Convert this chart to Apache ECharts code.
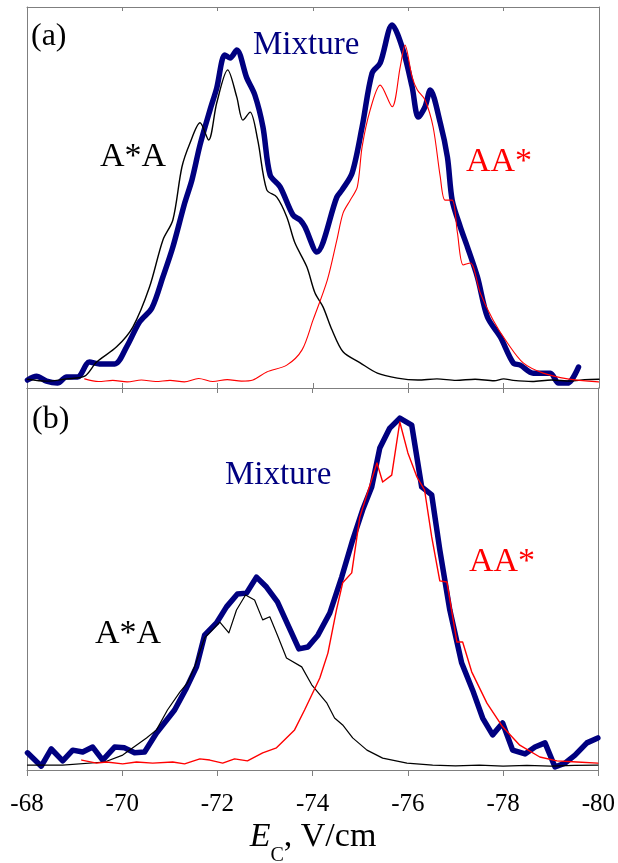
<!DOCTYPE html>
<html>
<head>
<meta charset="utf-8">
<script src="https://cdn.jsdelivr.net/npm/echarts@6/dist/echarts.min.js"></script>
<style>
  html, body { margin: 0; padding: 0; background: #fff; }
  #chart { width: 618px; height: 863px; }
</style>
</head>
<body>
<div id="chart"></div>
<script>
// x = E_C in V/cm, y = relative signal (0-100)
var xTicks = [-68, -70, -72, -74, -76, -78, -80];

// panel (a)
var mixA = [[-68.01, 2.1], [-68.20, 3.1], [-68.41, 1.8], [-68.64, 1.3], [-68.83, 2.9], [-69.06, 2.9],
  [-69.31, 6.8], [-69.52, 6.3], [-69.84, 6.3], [-70.09, 10.8], [-70.36, 17.3], [-70.62, 21.0],
  [-70.85, 29.1], [-71.06, 37.0], [-71.31, 48.6], [-71.46, 54.6], [-71.63, 63.8], [-71.84, 73.0],
  [-71.98, 78.7], [-72.15, 87.4], [-72.26, 86.6], [-72.40, 88.7], [-72.61, 81.4], [-72.78, 76.9],
  [-72.95, 68.5], [-73.10, 55.9], [-73.31, 52.8], [-73.58, 45.4], [-73.73, 44.1], [-73.83, 42.3],
  [-74.08, 35.7], [-74.50, 50.1], [-74.61, 52.0], [-74.82, 56.4], [-75.03, 68.5], [-75.24, 82.7],
  [-75.41, 85.3], [-75.66, 95.3], [-75.89, 88.7], [-76.08, 79.0], [-76.21, 71.1], [-76.35, 73.8],
  [-76.46, 78.2], [-76.67, 69.6], [-76.82, 60.6], [-76.92, 49.3], [-77.09, 42.3], [-77.24, 37.0],
  [-77.45, 29.1], [-77.66, 18.6], [-77.93, 13.4], [-78.20, 6.6], [-78.35, 6.0], [-78.62, 3.9],
  [-78.98, 3.9], [-79.15, 1.3], [-79.34, 1.3], [-79.57, 5.5]];
var astarA_a = [[-68.01, 2.3], [-68.41, 1.8], [-68.83, 2.4], [-69.21, 3.1], [-69.46, 6.8], [-69.88, 10.8],
  [-70.22, 16.0], [-70.57, 26.5], [-70.85, 38.8], [-71.06, 44.1], [-71.25, 58.0], [-71.42, 64.3],
  [-71.63, 69.6], [-71.81, 65.1], [-71.98, 74.8], [-72.21, 83.5], [-72.40, 76.4], [-72.53, 70.3],
  [-72.68, 72.4], [-72.84, 65.1], [-73.03, 52.0], [-73.24, 50.1], [-73.45, 44.9], [-73.62, 38.1],
  [-73.87, 31.8], [-74.04, 25.0], [-74.21, 21.3], [-74.40, 15.2], [-74.63, 9.5], [-74.99, 6.6],
  [-75.35, 3.9], [-75.77, 2.6], [-76.2, 2.1], [-76.6, 2.4], [-77.0, 2.0], [-77.4, 2.3], [-77.8, 1.9],
  [-78.0, 2.4], [-78.2, 2.0], [-78.6, 1.7], [-79.0, 2.1], [-79.4, 1.8], [-79.7, 2.2], [-80.0, 2.3]];
var aastar_a = [[-69.21, 2.4], [-69.5, 1.7], [-69.8, 2.0], [-70.1, 1.6], [-70.4, 2.1], [-70.7, 1.7],
  [-71.0, 2.0], [-71.3, 1.6], [-71.6, 2.5], [-71.9, 1.7], [-72.2, 2.2], [-72.5, 1.8], [-72.74, 2.1],
  [-73.03, 4.2], [-73.45, 6.0], [-73.77, 10.0], [-74.00, 17.8], [-74.30, 28.3], [-74.50, 38.8],
  [-74.63, 45.9], [-74.78, 49.3], [-74.93, 52.8], [-75.03, 63.3], [-75.20, 73.0], [-75.41, 79.5],
  [-75.66, 73.8], [-75.83, 84.3], [-75.93, 90.0], [-76.08, 81.6], [-76.19, 78.2], [-76.35, 75.6],
  [-76.52, 68.5], [-76.67, 55.4], [-76.77, 49.3], [-76.92, 49.3], [-77.03, 40.7], [-77.15, 32.3],
  [-77.30, 32.8], [-77.51, 24.9], [-77.78, 17.8], [-78.08, 11.8], [-78.41, 6.6], [-78.83, 3.9],
  [-79.34, 2.4], [-79.99, 1.6]];

// panel (b)
var mixB = [[-68.01, 4.5], [-68.30, 1.0], [-68.51, 5.5], [-68.75, 2.4], [-68.96, 5.2], [-69.17, 4.7],
  [-69.38, 6.0], [-69.59, 2.6], [-69.84, 6.0], [-70.05, 5.8], [-70.26, 4.5], [-70.47, 4.7],
  [-70.72, 9.7], [-71.10, 15.7], [-71.35, 21.5], [-71.56, 27.0], [-71.73, 35.3], [-71.98, 38.5],
  [-72.19, 42.7], [-72.42, 46.1], [-72.61, 46.3], [-72.82, 50.5], [-73.03, 47.9], [-73.26, 44.0],
  [-73.48, 38.0], [-73.71, 31.7], [-73.90, 32.2], [-74.11, 35.3], [-74.36, 41.1], [-74.61, 50.5],
  [-74.84, 60.2], [-75.05, 68.1], [-75.24, 74.1], [-75.41, 84.3], [-75.62, 89.5], [-75.83, 92.1],
  [-76.08, 90.3], [-76.29, 74.1], [-76.50, 72.0], [-76.67, 57.6], [-76.88, 41.9], [-77.13, 28.0],
  [-77.36, 20.9], [-77.57, 13.6], [-77.78, 9.2], [-77.99, 12.3], [-78.20, 5.2], [-78.46, 4.2],
  [-78.67, 6.0], [-78.88, 7.1], [-79.09, 0.8], [-79.30, 1.8], [-79.51, 3.9], [-79.76, 7.1], [-79.99, 8.4]];
var astarA_b = [[-68.01, 1.3], [-68.75, 1.3], [-69.63, 2.1], [-70.01, 3.9], [-70.51, 8.4], [-70.72, 10.5],
  [-70.95, 15.7], [-71.21, 20.4], [-71.37, 22.8], [-71.52, 27.0], [-71.73, 34.6], [-72.05, 38.7],
  [-72.24, 35.9], [-72.40, 41.9], [-72.59, 45.8], [-72.78, 44.5], [-72.95, 39.3], [-73.10, 40.1],
  [-73.26, 35.3], [-73.45, 29.3], [-73.77, 27.0], [-73.98, 22.3], [-74.30, 17.5], [-74.46, 13.6],
  [-74.63, 11.8], [-74.84, 8.4], [-75.14, 5.2], [-75.47, 3.1], [-75.98, 1.8], [-76.52, 1.3],
  [-77.0, 1.1], [-77.5, 1.3], [-78.0, 1.0], [-78.5, 1.2], [-79.0, 1.0], [-79.5, 1.2], [-79.99, 1.3]];
var aastar_b = [[-69.15, 2.6], [-69.46, 1.8], [-69.67, 2.1], [-70.01, 1.6], [-70.30, 2.1], [-70.64, 1.8],
  [-71.06, 2.1], [-71.31, 1.6], [-71.63, 2.9], [-71.84, 2.6], [-72.11, 1.8], [-72.36, 2.9],
  [-72.63, 2.4], [-72.95, 4.5], [-73.24, 5.8], [-73.62, 10.5], [-73.83, 15.7], [-74.15, 24.1],
  [-74.32, 30.6], [-74.50, 41.9], [-74.63, 49.0], [-74.82, 51.6], [-74.99, 66.2], [-75.35, 80.4],
  [-75.47, 75.4], [-75.66, 77.2], [-75.83, 91.1], [-76.00, 83.0], [-76.19, 76.7], [-76.35, 73.3],
  [-76.50, 61.0], [-76.67, 49.5], [-76.82, 49.2], [-77.03, 33.5], [-77.15, 33.5], [-77.34, 25.7],
  [-77.66, 17.5], [-77.99, 11.3], [-78.35, 6.5], [-78.77, 3.4], [-79.13, 2.4], [-79.55, 2.1], [-79.99, 1.8]];

var serif = '"Liberation Serif", "DejaVu Serif", serif';
var navy = '#000080';
var axisGrey = '#7f7f7f';

var chart = echarts.init(document.getElementById('chart'));

function xAx(gridIndex, pos, tickInside, tickLen, labels) {
    return {
        type: 'value', gridIndex: gridIndex, position: pos,
        min: -80, max: -68, interval: 2, inverse: true,
        axisLine: { show: true, onZero: false, lineStyle: { color: axisGrey, width: 1 } },
        axisTick: { show: true, inside: tickInside, length: tickLen, lineStyle: { color: axisGrey, width: 1 } },
        axisLabel: {
            show: labels, margin: 34, verticalAlign: 'middle',
            fontFamily: serif, fontSize: 25, color: '#000',
            formatter: function (v) { return xTicks.indexOf(v) >= 0 ? String(v) : ''; }
        },
        splitLine: { show: false }
    };
}
function yAx(gridIndex, pos) {
    return {
        type: 'value', gridIndex: gridIndex, position: pos, min: 0, max: 100,
        axisLine: { show: true, lineStyle: { color: axisGrey, width: 1 } },
        axisTick: { show: false }, axisLabel: { show: false }, splitLine: { show: false }
    };
}
function line(data, xi, yi, color, width, smooth, z) {
    return {
        type: 'line', data: data, xAxisIndex: xi, yAxisIndex: yi,
        showSymbol: false, symbol: 'none', smooth: smooth, clip: false, z: z,
        lineStyle: { color: color, width: width, join: 'round', cap: 'round' },
        silent: true, animation: false
    };
}
function label(txt, x, y, color, size) {
    return {
        type: 'text', x: x, y: y, silent: true,
        style: { text: txt, fill: color, font: size + 'px ' + serif, verticalAlign: 'middle', align: 'left' }
    };
}

var option = {
    animation: false,
    grid: [
        { left: 27, top: 7, width: 572, height: 381 },
        { left: 27, top: 388, width: 572, height: 382 }
    ],
    xAxis: [
        xAx(0, 'bottom', true, 5, false),
        xAx(0, 'top', true, 4, false),
        xAx(1, 'top', true, 5, false),
        xAx(1, 'bottom', false, 6, true)
    ],
    yAxis: [yAx(0, 'left'), yAx(0, 'right'), yAx(1, 'left'), yAx(1, 'right')],
    series: [
        line(astarA_a, 0, 0, '#000', 1.4, 0.3, 3),
        line(aastar_a, 0, 0, '#ff0000', 1.1, 0.3, 4),
        line(mixA, 0, 0, navy, 5.5, 0.3, 2),
        line(astarA_b, 3, 2, '#000', 1.2, false, 3),
        line(aastar_b, 3, 2, '#ff0000', 1.4, false, 4),
        line(mixB, 3, 2, navy, 5.5, false, 2)
    ],
    graphic: [
        label('(a)', 31, 37, '#000', 32),
        label('Mixture', 253, 45, navy, 33),
        label('A*A', 100, 157, '#000', 34),
        label('AA*', 466, 162, '#ff0000', 34),
        label('(b)', 32, 420, '#000', 32),
        label('Mixture', 225, 475, navy, 33),
        label('A*A', 95, 634, '#000', 34),
        label('AA*', 469, 562, '#ff0000', 34),
        {
            type: 'text', x: 313, y: 820, silent: true,
            style: {
                text: '{e|E}{s|C}{t|, V/cm}',
                align: 'center', verticalAlign: 'top',
                rich: {
                    e: { fontFamily: serif, fontStyle: 'italic', fontSize: 34, fill: '#000', lineHeight: 46, verticalAlign: 'top' },
                    s: { fontFamily: serif, fontSize: 20, fill: '#000', lineHeight: 46, verticalAlign: 'bottom' },
                    t: { fontFamily: serif, fontSize: 34, fill: '#000', lineHeight: 46, verticalAlign: 'top' }
                }
            }
        }
    ]
};
chart.setOption(option);
</script>
</body>
</html>
